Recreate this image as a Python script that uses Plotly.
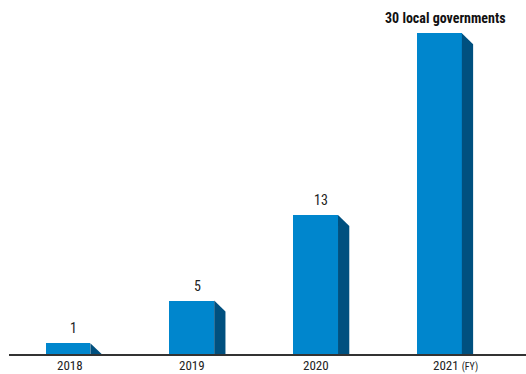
import plotly.graph_objects as go

# Number of participating local governments by fiscal year
years = ["2018", "2019", "2020", "2021"]
counts = [1, 5, 13, 30]
value_labels = ["1", "5", "13", "30 local governments"]

FRONT = "#0086cd"
SIDE = "#00507f"
FONT = "Liberation Sans Narrow, Arial Narrow, Roboto Condensed, sans-serif"

BAR_W = 0.361      # front face width (x units)
DX = 0.091         # depth of the side face (x units)
DY = 1.03          # depth of the side face (y units)

xs = list(range(len(years)))

fig = go.Figure()

# front faces
fig.add_trace(go.Bar(
    x=xs, y=counts, width=BAR_W,
    marker=dict(color=FRONT, line=dict(width=0)),
    hoverinfo="skip", showlegend=False,
))

# shaded side faces giving each bar some depth
for x, v in zip(xs, counts):
    xr = x + BAR_W / 2
    fig.add_trace(go.Scatter(
        x=[xr, xr, xr + DX, xr + DX, xr],
        y=[0, v, max(v - DY, 0), 0, 0],
        mode="lines", fill="toself", fillcolor=SIDE,
        line=dict(width=0, color=SIDE),
        hoverinfo="skip", showlegend=False,
    ))

# value labels above the bars
for i, (x, v, lab) in enumerate(zip(xs, counts, value_labels)):
    last = i == len(xs) - 1
    fig.add_annotation(
        x=x + DX / 2, y=v, text=f"<b>{lab}</b>" if last else lab,
        showarrow=False, yanchor="middle", yshift=15,
        font=dict(family=FONT, size=14, color="#111111" if last else "#222222"),
    )

# category labels under the baseline; the final year carries the "(FY)" note
for i, (x, yr) in enumerate(zip(xs, years)):
    last = i == len(xs) - 1
    fig.add_annotation(
        x=x, xref="x", y=0, yref="paper",
        text=f"{yr} <span style='font-size:10px'>(FY)</span>" if last else yr,
        xanchor="left" if last else "center", xshift=-7.5 if last else 2 if i == 0 else 0,
        yanchor="top", yshift=-3, borderpad=0, showarrow=False,
        font=dict(family=FONT, size=13, color="#222222"),
    )

fig.update_layout(
    width=526, height=374,
    margin=dict(l=9, r=0, t=0, b=20, autoexpand=False),
    paper_bgcolor="white", plot_bgcolor="white",
    bargap=0,
    xaxis=dict(
        range=[-0.4765, 3.6985], tickmode="array", tickvals=xs, showticklabels=False,
        showgrid=False, zeroline=False, showline=True, linecolor="#333333", linewidth=1.5,
        ticks="", automargin=False, fixedrange=True,
    ),
    yaxis=dict(
        range=[0, 33.1], visible=False, showgrid=False, zeroline=False,
        automargin=False, fixedrange=True,
    ),
)

fig.write_html("out.html")
